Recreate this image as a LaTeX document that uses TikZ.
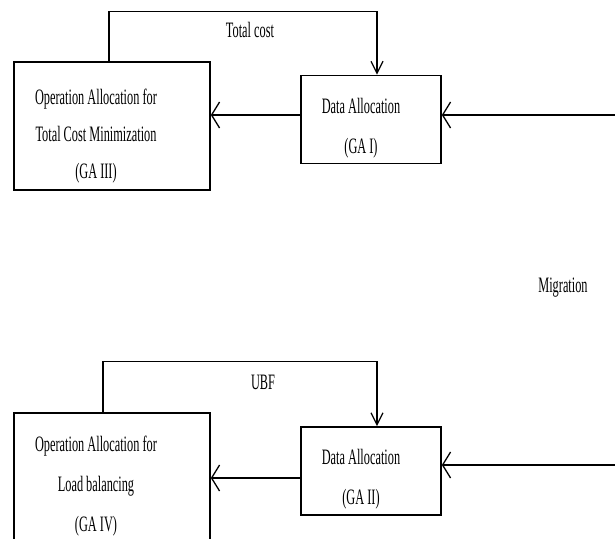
\documentclass[tikz,border=0pt]{standalone}
\usepackage{fontspec}
\setmainfont{Liberation Serif}[FakeStretch=0.56]
\usetikzlibrary{arrows.meta}

\begin{document}
\begin{tikzpicture}[x=1pt, y=-1pt,
	box/.style={draw, line width=1.6pt,
				minimum width=196pt
				},
	dabox/.style={draw, line width=1.6pt,
				  minimum width=140pt,
				  minimum height=88pt
	},
	lbl/.style={align=center, inner sep=0pt,
				font=\fontsize{22}{40}\selectfont
	},
	harrow/.style={line width=1.3pt, -{Straight Barb[length=8pt,width=26pt]}},
	varrow/.style={line width=1.3pt, -{Straight Barb[length=12pt,width=12pt]}}
]
	\clip (0,0) rectangle (615,538);
	% total cost loop
	\node (opt1) [box, minimum height=128pt] at (112,126) {};
	\node (da1) [dabox] at (371,119.5) {};
	\node (opt1txt) [lbl, font=\fontsize{22}{37}\selectfont] at (96,136) {Operation Allocation for\\Total Cost Minimization\\(GA III)};
	\node (da1txt) [lbl] at (361,128) {Data Allocation\\(GA I)};
	\node (cost) [lbl] at (250,30) {Total cost};
	\draw[varrow] ([xshift=-3pt]opt1.north) -- ++(0,-50) -| ([xshift=6pt]da1.north);
	\draw[harrow] ([yshift=4.5pt]da1.west) -- ([yshift=4.5pt]da1.west -| opt1.east);
	\coordinate (in1) at (615,115);
	\draw[harrow] (in1) -- (in1 -| da1.east);

	\node (mig) [lbl] at (563,288) {Migration};

	% load balancing loop
	\node (opt2) [box, minimum height=150pt] at (112,488) {};
	\node (da2) [dabox] at (371,471) {};
	\node (opt2txt) [lbl] at (96,486) {Operation Allocation for\\Load balancing\\(GA IV)};
	\node (da2txt) [lbl] at (361,479) {Data Allocation\\(GA II)};
	\node (ubf) [lbl] at (263,382) {UBF};
	\draw[varrow] ([xshift=-9pt]opt2.north) -- ++(0,-51) -| ([xshift=6pt]da2.north);
	\draw[harrow] ([yshift=-7pt]da2.west) -- ([yshift=-7pt]da2.west -| opt2.east);
	\coordinate (in2) at (615,465);
	\draw[harrow] (in2) -- (in2 -| da2.east);
\end{tikzpicture}
\end{document}
